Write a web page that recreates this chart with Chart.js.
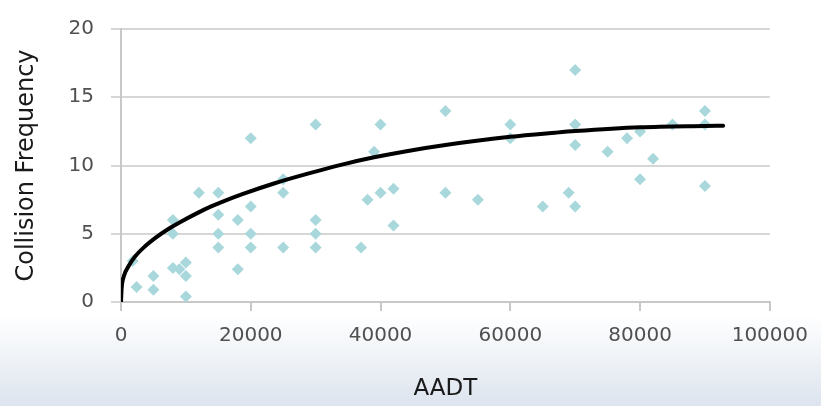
<!DOCTYPE html>
<html><head><meta charset="utf-8">
<script src="https://cdn.jsdelivr.net/npm/chart.js@4/dist/chart.umd.min.js"></script>
<style>html,body{margin:0;padding:0;background:#fff}#wrap{width:821px;height:406px}</style>
</head><body><div id="wrap"><canvas id="c" width="821" height="406"></canvas></div>
<script>
// Observed data (AADT vs collision frequency)
const aadt = [1800, 2400, 5000, 5000, 8000, 9000, 10000, 10000, 10000, 8000, 8000, 12000, 15000, 15000, 15000, 15000, 18000, 18000, 20000, 20000, 20000, 20000, 25000, 25000, 25000, 30000, 30000, 30000, 30000, 37000, 38000, 39000, 40000, 40000, 42000, 42000, 50000, 50000, 55000, 60000, 60000, 65000, 69000, 70000, 70000, 70000, 70000, 75000, 78000, 80000, 80000, 82000, 85000, 90000, 90000, 90000];
const collisions = [3, 1.1, 1.9, 0.9, 2.5, 2.4, 2.9, 1.9, 0.4, 6, 5, 8, 8, 6.4, 5, 4, 6, 2.4, 12, 7, 5, 4, 9, 8, 4, 13, 6, 5, 4, 4, 7.5, 11, 13, 8, 8.3, 5.6, 14, 8, 7.5, 13, 12, 7, 8, 17, 13, 11.5, 7, 11, 12, 12.5, 9, 10.5, 13, 14, 13, 8.5];
// Trend line
const trendAadt = [0, 100, 450, 1200, 2200, 3750, 5300, 7300, 9300, 11900, 13900, 15400, 18700, 23700, 28800, 33900, 39000, 44000, 50000, 60000, 66900, 70000, 80000, 90000, 92800];
const trendFreq = [0, 1.0, 1.9, 2.65, 3.35, 4.1, 4.7, 5.35, 5.9, 6.55, 7.0, 7.3, 7.9, 8.7, 9.4, 10.05, 10.6, 11.05, 11.5, 12.1, 12.4, 12.52, 12.8, 12.9, 12.92];
const xTitle = 'AADT';
const yTitle = 'Collision Frequency';

const bg = {
  id: 'bg',
  beforeDraw(chart) {
    const {ctx, width, height} = chart;
    ctx.save();
    ctx.fillStyle = '#ffffff';
    ctx.fillRect(0, 0, width, height);
    const g = ctx.createLinearGradient(0, 315, 0, height);
    g.addColorStop(0, 'rgba(255,255,255,1)');
    g.addColorStop(1, '#dde4ee');
    ctx.fillStyle = g;
    ctx.fillRect(0, 315, width, height - 315);
    ctx.restore();
  }
};

new Chart(document.getElementById('c'), {
  type: 'scatter',
  data: {
    datasets: [
      {
        type: 'line',
        data: trendAadt.map((x, i) => ({x, y: trendFreq[i]})),
        borderColor: '#000000',
        borderWidth: 4,
        pointRadius: 0,
        fill: false,
        cubicInterpolationMode: 'monotone',
        borderCapStyle: 'round',
        borderJoinStyle: 'round',
        order: 0
      },
      {
        data: aadt.map((x, i) => ({x, y: collisions[i]})),
        backgroundColor: '#a9d8dc',
        borderWidth: 0,
        pointStyle: 'rectRot',
        pointRadius: 6,
        order: 1
      }
    ]
  },
  options: {
    responsive: false,
    animation: false,
    layout: {padding: {left: 0, right: 43, top: 20, bottom: 0}},
    plugins: {legend: {display: false}, tooltip: {enabled: false}},
    scales: {
      x: {
        type: 'linear', min: 0, max: 100000,
        afterFit: s => { s.height = 104; },
        ticks: {stepSize: 20000, color: '#505050', font: {family: 'DejaVu Sans', size: 20}, padding: 13, maxRotation: 0,
          callback: v => String(v)},
        grid: {drawOnChartArea: false, drawTicks: true, tickLength: 9, color: '#c8c8c8', lineWidth: 2},
        border: {color: '#c8c8c8', width: 2},
        title: {display: true, text: xTitle, color: '#1a1a1a', font: {family: 'DejaVu Sans', size: 23}, padding: {top: 0, bottom: 3}}
      },
      y: {
        min: 0, max: 20,
        afterFit: s => { s.width = 121; },
        ticks: {stepSize: 5, color: '#505050', font: {family: 'DejaVu Sans', size: 20}, padding: 17},
        grid: {color: '#d6d6d6', lineWidth: 2, tickLength: 10},
        border: {color: '#c8c8c8', width: 2},
        title: {display: true, text: yTitle, color: '#1a1a1a', font: {family: 'DejaVu Sans', size: 24}, padding: {top: 12, bottom: 0}}
      }
    }
  },
  plugins: [bg]
});
</script>
</body></html>
